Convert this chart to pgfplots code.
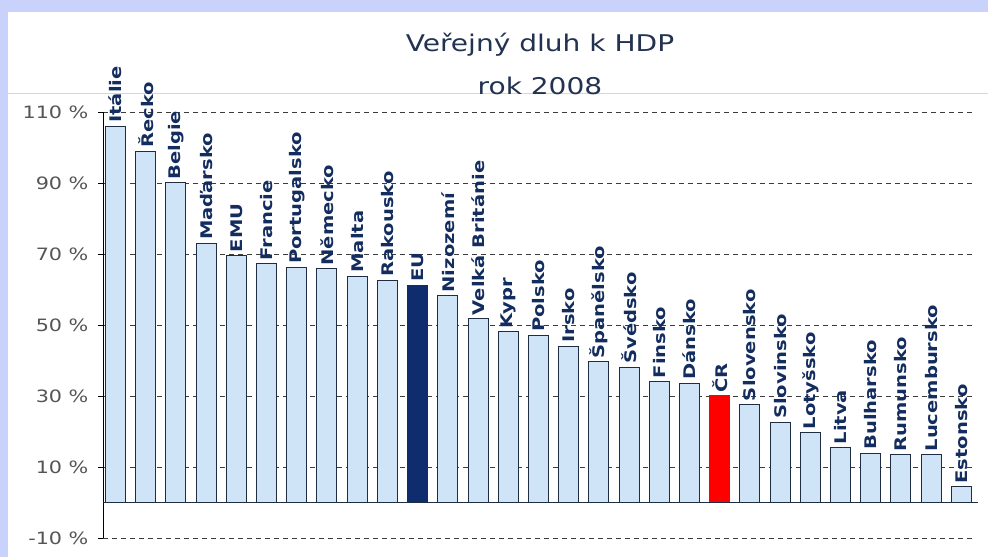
\documentclass[border=0pt]{standalone}
\usepackage{pgfplots}
\pgfplotsset{compat=1.18}
\usepackage{pgfplotstable}
\usepackage{fontspec}
\setmainfont{DejaVu Sans}
\newfontfamily\wfont{DejaVu Sans}[FakeStretch=1.22]
\definecolor{bgl}{RGB}{200,210,250}
\definecolor{sepc}{RGB}{205,215,240}
\definecolor{titlec}{RGB}{35,50,80}
\definecolor{lblc}{RGB}{20,45,95}
\definecolor{tickc}{RGB}{85,85,85}
\definecolor{gridc}{RGB}{60,60,60}
\definecolor{barfill}{RGB}{207,228,246}
\definecolor{bardraw}{RGB}{30,45,65}
\definecolor{eufill}{RGB}{15,45,110}
\definecolor{crfill}{RGB}{255,0,0}

\pgfplotstableread[col sep=comma]{
x,y,label
0,106.0,Itálie
1,99.0,Řecko
2,90.0,Belgie
3,73.0,Maďarsko
4,69.5,EMU
5,67.2,Francie
6,66.2,Portugalsko
7,65.8,Německo
8,63.8,Malta
9,62.6,Rakousko
11,58.2,Nizozemí
12,51.8,Velká Británie
13,48.1,Kypr
14,47.1,Polsko
15,44.0,Irsko
16,39.6,Španělsko
17,38.1,Švédsko
18,34.0,Finsko
19,33.6,Dánsko
21,27.6,Slovensko
22,22.6,Slovinsko
23,19.6,Lotyšsko
24,15.4,Litva
25,13.9,Bulharsko
26,13.4,Rumunsko
27,13.4,Lucembursko
28,4.4,Estonsko
}\maindata

\pgfplotstableread[col sep=comma]{
x,y,label
10,61.2,EU
}\eudata

\pgfplotstableread[col sep=comma]{
x,y,label
20,30.0,ČR
}\crdata

\begin{document}
\begin{tikzpicture}[x=1pt,y=1pt]
\path[use as bounding box] (0,0) rectangle (988,557);
\fill[bgl] (0,0) rectangle (988,557);
\fill[white] (8,0) rectangle (988,545);
\draw[sepc, line width=0.8pt] (8,464) -- (988,464);
\node[font=\wfont\fontsize{23}{27}\selectfont, text=titlec] at (540,512) {Veřejný dluh k HDP};
\node[font=\wfont\fontsize{23}{27}\selectfont, text=titlec] at (540,471) {rok 2008};
\begin{axis}[
  at={(103pt,19pt)}, anchor=south west,
  scale only axis, width=872pt, height=426pt,
  xmin=-0.414, xmax=28.45, ymin=-10, ymax=110,
  axis x line=none, axis y line*=left,
  axis line style={black, line width=1pt},
  ytick={-10,10,30,50,70,90,110},
  ytick pos=left,
  yticklabel={\pgfmathprintnumber{\tick} \%},
  /pgf/number format/assume math mode=true,
  yticklabel style={font=\wfont\fontsize{17}{20}\selectfont, text=tickc, xshift=-6pt},
  tick align=outside, major tick length=5pt,
  tick style={black, line width=0.8pt},
  ymajorgrids,
  grid style={gridc, line width=0.9pt, dash pattern=on 5pt off 4pt},
  ybar, bar width=20pt, bar shift=0pt,
  clip=false,
  nodes near coords, point meta=explicit symbolic,
  every node near coord/.append style={rotate=90, anchor=west, inner sep=3pt,
     font=\wfont\bfseries\fontsize{16}{19}\selectfont, text=lblc},
]
\addplot[fill=barfill, draw=bardraw, line width=1pt] table[x=x,y=y,meta=label] {\maindata};
\addplot[fill=eufill, draw=eufill, line width=1pt] table[x=x,y=y,meta=label] {\eudata};
\addplot[fill=crfill, draw=crfill, line width=1pt] table[x=x,y=y,meta=label] {\crdata};
\draw[bardraw, line width=1.3pt] (axis cs:-0.414,0) -- (axis cs:28.55,0);
\end{axis}
\end{tikzpicture}
\end{document}
